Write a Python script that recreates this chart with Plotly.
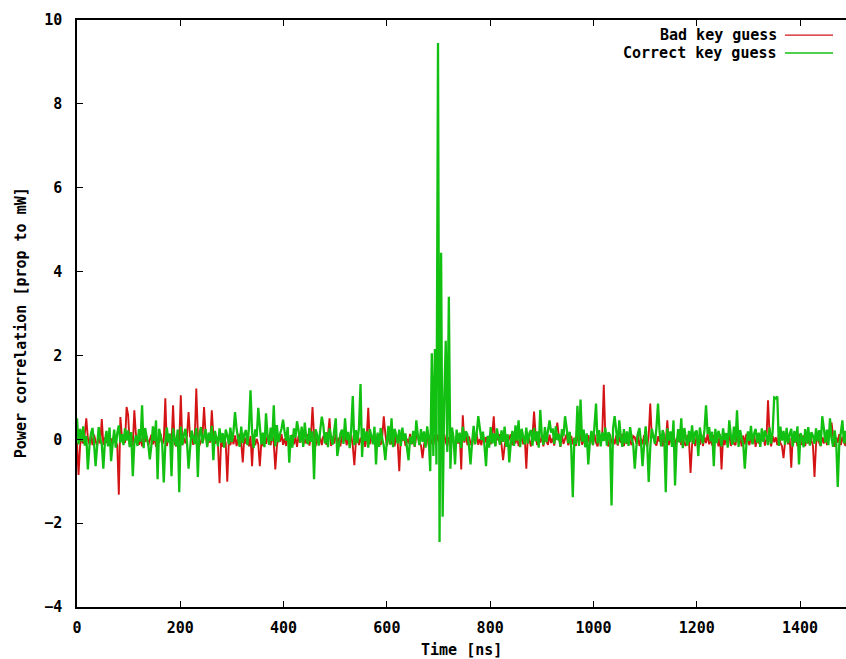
import plotly.graph_objects as go

# Sampling interval of the recorded traces (ns)
SAMPLE_NS = 3

# Background noise band of the correct key guess trace, one value per sample
correct_band = [
    .18,-.12,.25,-.05,.31,-.15,.08,.22,-.18,.14,.27,-.09,.19,-.16,.29,.02,-.13,.24,-.07,.2,
    -.17,.28,.06,-.11,.23,-.2,.15,.33,-.08,.12,-.14,.26,-.03,.21,-.19,.17,.3,-.1,.09,-.16,
    .24,-.06,.19,-.21,.27,.04,-.12,.22,-.15,.31,-.04,.16,-.18,.25,.07,-.1,.2,-.13,.28,-.08,
    .14,-.2,.26,.01,-.16,.23,-.09,.3,-.14,.11,.25,-.07,.18,-.22,.21,.05,-.11,.27,-.17,.13,
    .29,-.1,.07,.24,-.19,.16,-.05,.32,-.13,.2,.03,-.17,.26,-.08,.15,-.2,.23,.09,-.12,.28,
    -.06,.19,-.15,.25,.02,-.18,.3,-.09,.13,.22,-.14,.27,-.02,.17,-.21,.24,.06,-.1,.31,-.12,
    .16,-.19,.23,.08,-.13,.28,-.04,.2,-.17,.34,-.07,.12,.25,-.16,.18,-.03,.29,-.11,.1,-.2,
    .26,.04,-.14,.21,-.08,.3,-.18,.15,.02,-.12,.27,-.06,.19,-.2,.24,.11,-.15,.22,-.05,.33,
    -.1,.17,-.19,.26,.05,-.13,.2,-.07,.31,-.16,.14,.23,-.11,.28,-.02,.18,-.21,.25,.08,-.14,
    .22,-.09,.29,-.17,.12,.26,-.04,.19,-.2,.24,.07,-.12,.3,-.08,.16,-.18,.27,.01,-.15,.21,
    -.05,.32,-.13,.18,-.19,.25,.1,-.1,.23,-.16,.28,-.03,.14,-.21,.27,.06,-.11,.2,-.17,.3,
    .09,-.14,.24,-.06,.19,-.2,.31,.03,-.12,.26,-.09,.17,-.18,.29,-.01,.22,-.15,.13,.27,-.1,
    .2,-.17,.28,.05,-.13,.23,-.08,.16,-.21,.3,-.04,.19,.11,-.16,.25,-.07,.32,-.12,.15,-.19,
    .27,-.02,.18,-.15,.24,.08,-.2,.29,-.1,.14,-.17,.26,.04,-.13,.21,-.06,.3,-.18,.12,.23,
    -.08,.2,-.16,.33,-.03,.17,-.19,.25,.06,-.12,.28,-.1,.15,.22,-.15,.27,-.05,.19,-.2,.24,
    .1,-.13,.29,-.07,.21,-.18,.16,.26,-.11,.31,-.02,.13,-.17,.24,.07,-.14,.28,-.09,.18,-.21,
    .25,.03,-.12,.3,-.16,.19,-.06,.23,-.19,.14,.27,-.08,.2,-.14,.32,.01,-.1,.22,-.17,.16,
    -.04,.28,-.15,.17,.09,-.2,.26,-.07,.21,-.13,.3,.05,-.18,.24,-.1,.19,-.16,.29,.02,-.12,
    .23,-.19,.14,.27,-.06,.2,-.15,.31,-.09,.16,-.2,.25,.08,-.11,.28,-.04,.18,-.17,.22,.1,
    -.14,.26,-.03,.19,-.18,.3,.06,-.12,.24,-.08,.15,-.21,.27,.02,-.15,.2,-.07,.33,-.11,.17,
    .21,-.16,.28,.04,-.1,.23,-.19,.13,.29,-.05,.18,-.14,.25,-.09,.2,.07,-.17,.26,-.02,.15,
    -.2,.24,.1,-.13,.3,-.07,.17,-.18,.22,.03,-.11,.27,-.15,.19,-.04,.32,-.12,.14,.25,-.08,
    .16,-.18,.26,-.06,.21,.09,-.14,.28,-.1,.18,-.2,.23,.05,-.16,.3,-.03,.2,-.13,.27,-.09,
    .12,.25,-.17,.2,-.07,.31,-.12,.15,.04,-.19,.24,-.1,.29,-.15,.17,.08,-.11,.26,-.05,.22,
    -.16,.19,.27,-.08,.23,-.14,.3,.02,-.18,.21,-.06,.28,-.12,.16,.24,-.1,.2,-.17,.29,.05,
]

# Background noise band of the bad key guess trace
bad_band = [
    -.08,.1,-.15,.05,-.1,.12,-.17,.03,-.12,.08,-.14,.11,-.04,-.16,.07,-.1,.13,-.13,.04,-.09,
    .1,-.16,.02,-.11,.12,-.06,-.14,.08,-.18,.05,.11,-.09,-.14,.06,-.12,.09,-.16,.02,.12,-.08,
    -.13,.04,-.17,.1,-.06,.08,-.15,-.02,.11,-.12,.07,-.18,.04,-.08,.13,-.11,-.05,.1,-.16,.06,
    .08,-.14,.11,-.1,-.17,.06,-.07,.12,-.14,.03,-.1,.09,-.16,.05,.1,-.13,.01,-.09,.12,-.15,
    -.04,.08,-.12,.13,-.16,.04,-.08,-.17,.1,-.11,.06,-.14,.12,-.06,-.18,.07,-.1,.11,-.05,-.14,
    .06,-.12,.09,-.16,.03,.13,-.08,-.15,.05,-.1,.11,-.17,.08,-.06,.1,-.14,.01,-.12,.13,-.07,
    -.16,.07,-.11,.1,-.04,-.14,.12,-.09,.04,-.17,.08,-.06,.12,-.13,.02,-.16,.1,-.08,-.01,.11,
    -.12,.05,-.18,.09,-.08,.13,-.14,.01,-.1,.12,-.15,.06,-.05,.1,-.17,.08,-.12,.04,-.14,.08,
    .02,-.13,.11,-.07,-.16,.06,-.1,.13,-.12,.04,-.17,.09,-.06,.12,-.14,.01,-.09,.1,-.16,.07,
    -.06,.1,-.14,.04,-.11,.13,-.18,.08,-.03,-.12,.1,-.08,.05,-.16,.12,-.07,-.13,.06,-.1,.13,
    -.15,.03,.09,-.12,.06,-.17,.11,-.08,-.14,.08,-.04,.12,-.16,.01,-.1,.13,-.12,.05,-.18,.08,
    .1,-.09,-.14,.07,-.13,.04,.12,-.16,.06,-.08,-.14,.1,-.05,.11,-.16,.02,-.11,.13,-.07,-.17,
    .05,-.12,.1,-.04,-.15,.08,-.1,.13,-.18,.04,-.08,.12,-.14,.07,-.1,-.16,.09,-.06,.12,-.13,
    .01,-.14,.11,-.08,.05,-.17,.08,-.12,.13,-.06,-.16,.1,-.03,.12,-.13,.06,-.17,.08,-.09,.03,
    .12,-.14,.04,-.1,.09,-.16,-.07,.13,-.12,.05,-.15,.1,-.02,-.17,.08,-.1,.11,-.14,.03,-.08,
    .1,-.17,.07,-.05,-.13,.11,-.09,.03,-.15,.12,-.08,.06,-.18,.09,-.11,.01,.12,-.14,-.05,.08,
    -.12,.04,-.16,.1,-.07,.13,-.13,-.03,.08,-.16,.1,-.1,.05,-.14,.12,-.08,-.17,.07,-.04,.11,
    -.14,.08,-.06,-.17,.12,-.1,.02,-.12,.09,-.15,.06,-.08,.13,-.16,.03,-.11,.1,-.05,-.14,.08,
    .05,-.1,.12,-.16,.01,-.12,.1,-.07,-.17,.08,-.13,.04,.11,-.09,-.15,.07,-.06,.13,-.17,.03,
    -.08,.12,-.14,.06,-.11,.09,-.18,.03,-.06,.12,-.14,.08,-.1,-.16,.1,-.04,.13,-.12,.05,-.16,
    .09,-.07,-.13,.11,-.16,.05,-.09,.13,-.12,.01,-.15,.1,-.06,.08,-.17,.12,-.1,.03,-.14,.08,
    -.05,.1,-.16,.07,-.1,-.14,.12,-.08,.04,-.17,.09,-.12,.13,-.03,-.14,.06,-.11,.1,-.18,.05,
    -.1,.08,-.04,.12,-.15,.02,-.12,.11,-.17,.08,-.07,.05,-.14,.1,-.09,-.16,.13,-.06,.07,-.12,
    .03,-.14,.1,-.08,.06,-.17,.12,-.05,-.13,.09,-.16,.07,-.1,.13,-.03,-.15,.08,-.12,.11,-.08,
    -.16,.05,-.1,.13,-.14,.03,.1,-.11,.08,-.18,.04,-.08,.12,-.14,.06,-.07,-.16,.1,-.05,.12,
]

# Isolated excursions of the correct key guess trace: time (ns) and value
correct_peak_ns = [
    0, 21, 36, 51, 66, 108, 126, 141, 153, 156, 168, 183, 198, 216, 234, 264,
    306, 336, 351, 366, 381, 399, 411, 426, 441, 459, 474, 501, 504, 519, 534,
    549, 552, 579, 597, 609, 642, 657, 684, 687, 690, 693, 696, 699, 702, 705,
    708, 711, 714, 717, 720, 723, 732, 762, 777, 792, 837, 855, 897, 915, 945,
    960, 969, 975, 990, 1005, 1035, 1041, 1050, 1080, 1095, 1107, 1125, 1140,
    1155, 1158, 1170, 1203, 1218, 1233, 1263, 1278, 1293, 1350, 1353, 1356,
    1398, 1443, 1458, 1473, 1482,
]
correct_peak_val = [
    0.5, -0.72, -0.64, -0.7, -0.52, -0.88, 0.81, -0.48, 0.45, -0.95, -1.03, -0.88, -1.26, -0.7, -0.9, -0.5,
    0.65, 1.17, 0.75, 0.62, 0.81, 0.47, -0.56, 0.43, 0.4, -0.95, 0.54, 0.5, -0.4, 0.5, 1.03,
    1.32, -0.42, -0.6, -0.5, 0.5, -0.5, 0.45, -0.76, 2.05, -0.4, 2.15, -0.6, 9.45, -2.45, 4.45,
    -1.85, 0.9, 2.35, -0.3, 3.4, -0.7, -0.6, -0.6, 0.55, -0.64, -0.55, 0.45, 0.7, 0.45, 0.55,
    -1.38, 0.8, 0.95, -0.6, 0.85, -1.58, 0.55, 0.45, -0.7, -0.64, -1.02, 0.85, -1.26,
    0.45, -1.1, 0.5, -0.4, 0.81, -0.64, 0.45, 0.69, -0.7, 1.0, 0.98, 1.02,
    -0.6, 0.55, 0.5, -1.14, 0.45,
]

# Isolated excursions of the bad key guess trace
bad_peak_ns = [
    3, 18, 48, 81, 84, 96, 99, 111, 171, 186, 201, 216, 231, 246, 261, 276, 291,
    321, 339, 354, 384, 456, 489, 537, 564, 594, 624, 669, 744, 747, 807, 825,
    870, 885, 930, 1020, 1110, 1143, 1188, 1248, 1338, 1368, 1383, 1428, 1461,
]
bad_peak_val = [
    -0.85, 0.5, 0.48, -1.32, 0.53, 0.77, 0.58, 0.69, 0.98, 0.81, 1.05, 0.65, 1.21, 0.77, 0.69, -1.05, -1.01,
    -0.55, -0.64, -0.64, -0.72, 0.77, 0.5, -0.62, 0.75, 0.55, -0.76, -0.45, -0.72, 0.57, 0.55, -0.5,
    -0.7, 0.66, 0.4, 1.3, 0.85, 0.45, -0.8, -0.72, 0.93, -0.45, -0.68, -0.9, 0.4,
]

X_TICKS = [0, 200, 400, 600, 800, 1000, 1200, 1400]
Y_TICKS = [-4, -2, 0, 2, 4, 6, 8, 10]


def assemble(band, peak_ns, peak_val):
    trace = list(band)
    for t, v in zip(peak_ns, peak_val):
        trace[t // SAMPLE_NS] = v
    times = [i * SAMPLE_NS for i in range(len(trace))]
    return times, trace


bad_t, bad_y = assemble(bad_band, bad_peak_ns, bad_peak_val)
cor_t, cor_y = assemble(correct_band, correct_peak_ns, correct_peak_val)

RED = "#d41414"
GREEN = "#12c012"
FONT = dict(family="DejaVu Sans Mono", size=15, color="black", weight="bold")

fig = go.Figure()
fig.add_trace(go.Scatter(x=bad_t, y=bad_y, mode="lines", name="Bad key guess",
                         line=dict(color=RED, width=1.9, simplify=False),
                         showlegend=False))
fig.add_trace(go.Scatter(x=cor_t, y=cor_y, mode="lines", name="Correct key guess",
                         line=dict(color=GREEN, width=2.3, simplify=False),
                         showlegend=False))

axis_common = dict(showgrid=False, zeroline=False, showline=True, linecolor="black",
                   linewidth=1.5, ticks="inside", ticklen=6, tickwidth=1,
                   tickcolor="black", tickfont=FONT)

fig.update_xaxes(range=[0, 1489], tickvals=X_TICKS, mirror="ticks",
                 ticklabelstandoff=6, **axis_common)
fig.update_yaxes(range=[-4, 10], tickvals=Y_TICKS, ticklabelstandoff=10,
                 **axis_common)

# Key box in the upper right corner: label text followed by a line sample
legend_rows = [("Bad key guess", RED, 0.9744), ("Correct key guess", GREEN, 0.9438)]
annotations = []
shapes = []
for label, color, yp in legend_rows:
    annotations.append(dict(text=label, x=0.9125, y=yp, xref="paper", yref="paper",
                            xanchor="right", yanchor="middle", showarrow=False,
                            font=FONT))
    shapes.append(dict(type="line", xref="paper", yref="paper", x0=0.9207, x1=0.9831,
                       y0=yp, y1=yp, line=dict(color=color, width=1.3)))

annotations.append(dict(text="Time [ns]", x=0.5, y=-0.073, xref="paper", yref="paper",
                        xanchor="center", yanchor="middle", showarrow=False, font=FONT))
annotations.append(dict(text="Power correlation [prop to mW]", x=-0.073, y=0.485,
                        xref="paper", yref="paper", xanchor="center", yanchor="middle",
                        textangle=-90, showarrow=False, font=FONT))

fig.update_layout(width=846, height=659, margin=dict(l=77, r=0, t=20, b=52),
                  paper_bgcolor="white", plot_bgcolor="white",
                  annotations=annotations, shapes=shapes)

fig.write_html("out.html")
